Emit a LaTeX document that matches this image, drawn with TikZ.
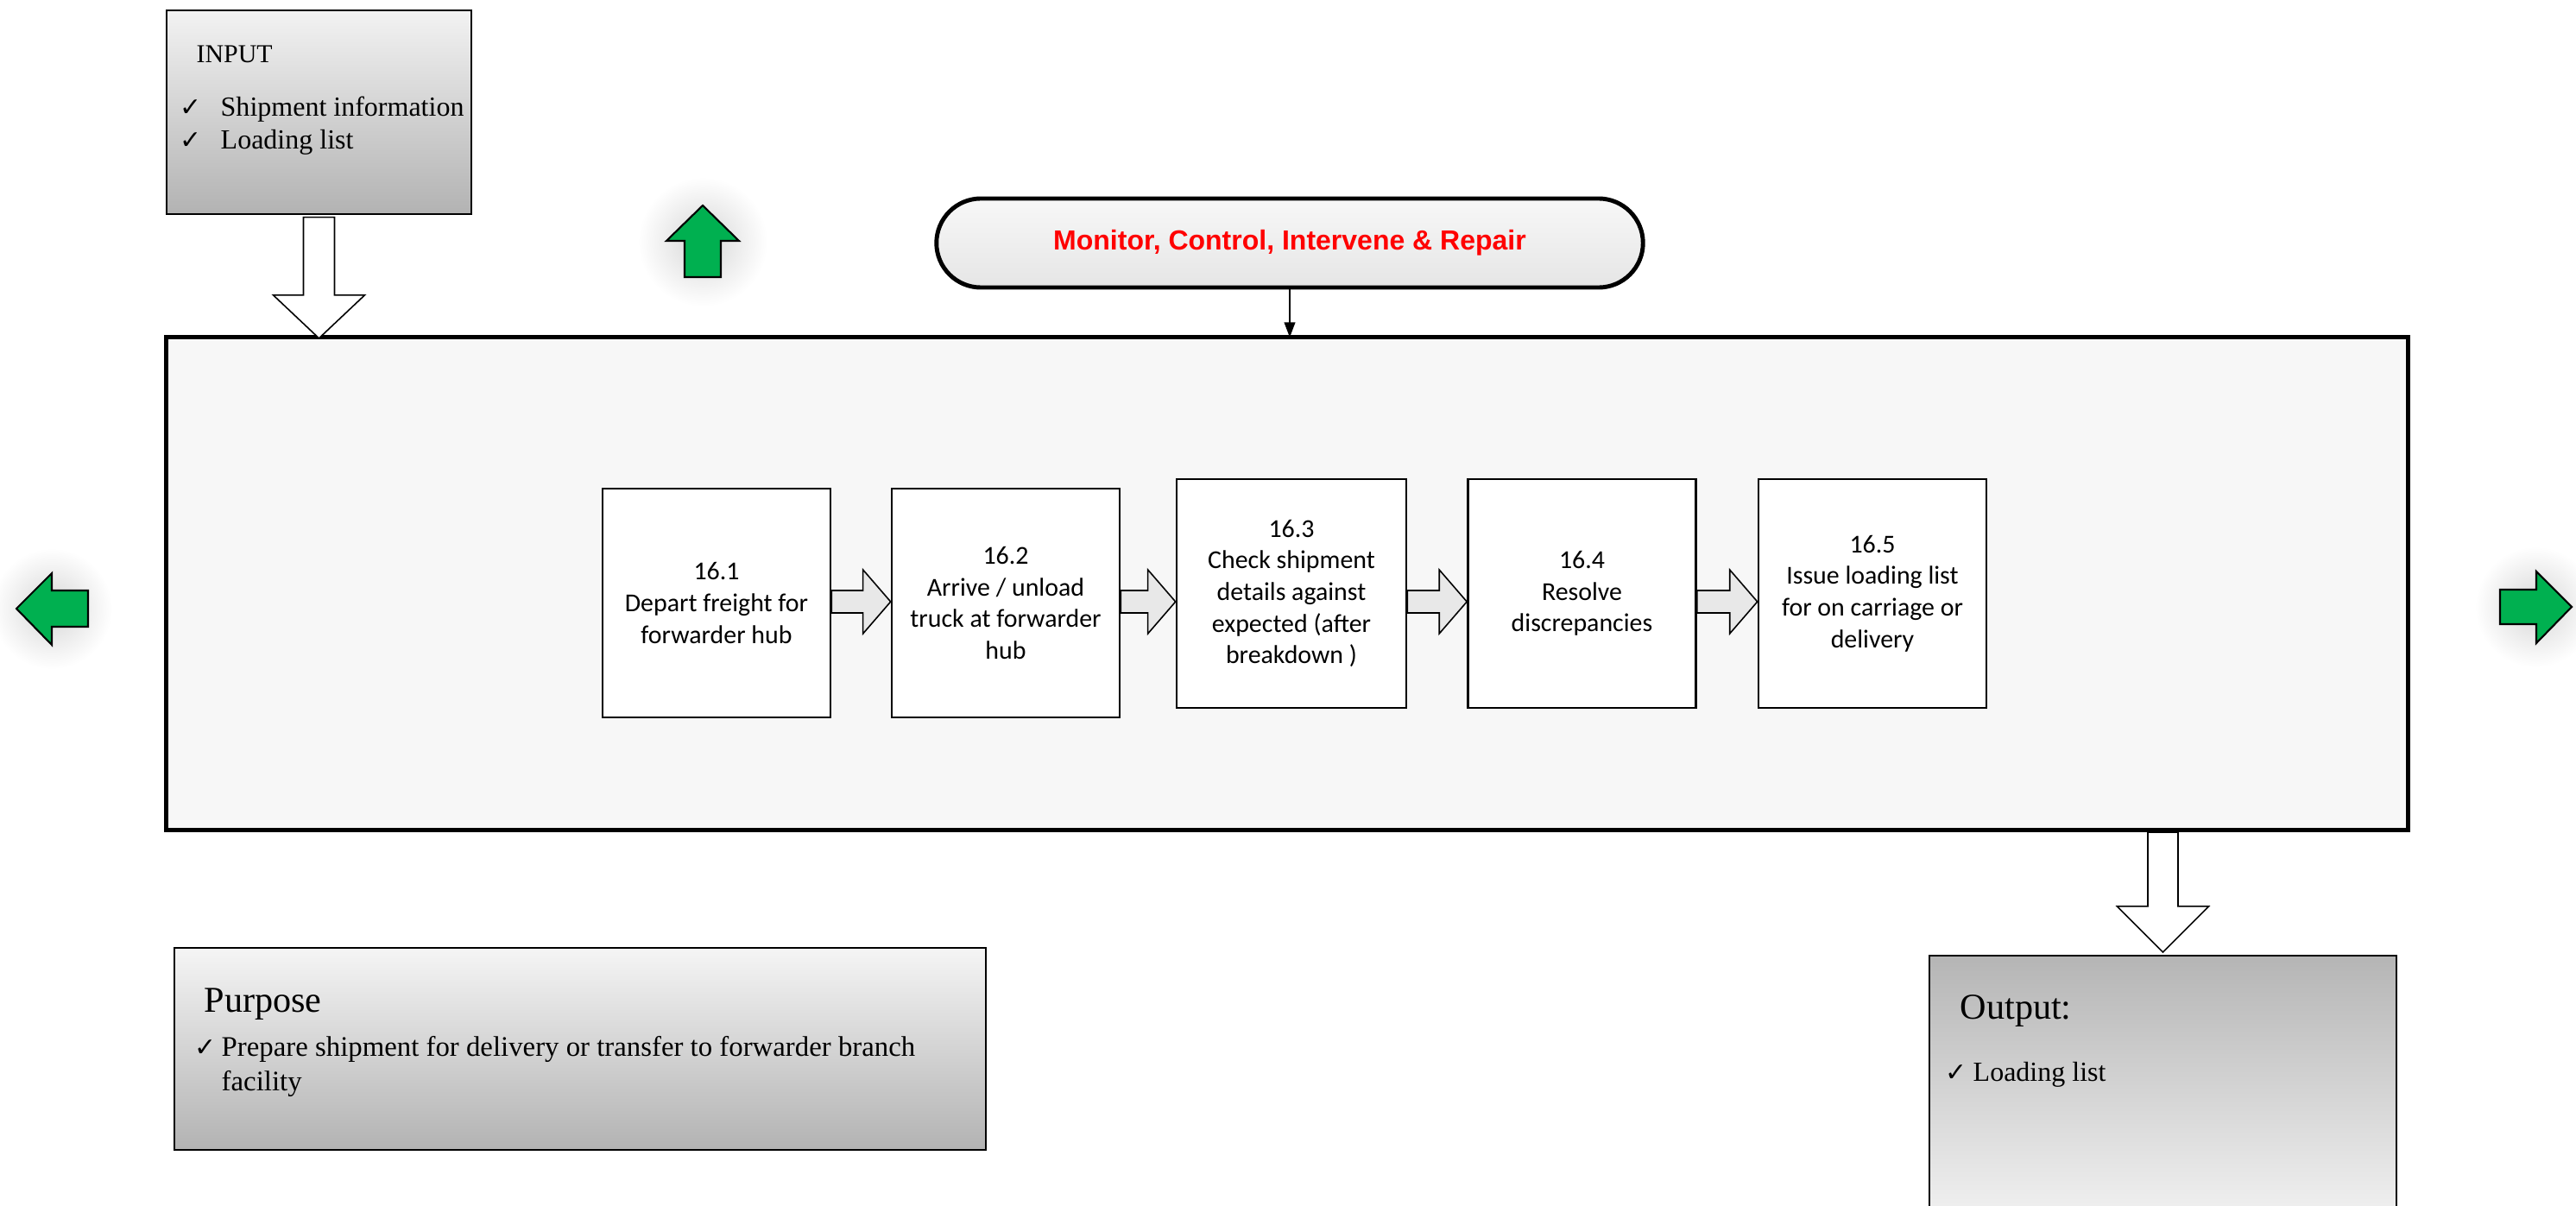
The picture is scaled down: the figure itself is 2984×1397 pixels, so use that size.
\documentclass[tikz,border=0pt]{standalone}
\usepackage{fontspec}
\setmainfont{Liberation Serif}
\newfontfamily\procfont{Carlito}
\newfontfamily\monfont{Liberation Sans}
\newfontfamily\symfont{DejaVu Sans}
\usetikzlibrary{shapes.misc,arrows.meta,calc}
\definecolor{arrgreen}{HTML}{00B050}
\definecolor{mainfill}{HTML}{F7F7F7}
\definecolor{monred}{HTML}{FF0000}
\tikzset{
  procbox/.style={draw, line width=0.7pt, fill=white, minimum width=2.64cm, minimum height=2.65cm,
    inner sep=1pt, align=center, font=\procfont\fontsize{8.5}{10.4}\selectfont},
  hollowarr/.style={draw, line width=0.45pt, fill=white, line join=miter},
  blockarr/.style={draw, line width=0.45pt, fill=black!9, line join=miter},
  greenarr/.style={draw, line width=0.6pt, fill=arrgreen, line join=miter},
  glowdisc/.style={inner color=black!16, outer color=white},
  serifbig/.style={font=\fontsize{12}{14}\selectfont, inner sep=0},
  serifmid/.style={font=\fontsize{9.1}{11}\selectfont, inner sep=0},
  chk/.style={font=\symfont\fontsize{8.5}{10}\selectfont, inner sep=0},
}
\begin{document}
\begin{tikzpicture}[x=0.01cm, y=-0.01cm]
\useasboundingbox (0,0) rectangle (2984,1397);

% glows
\shade[glowdisc] (814,280) circle (75);
\shade[glowdisc] (60,705) circle (70);
\shade[glowdisc] (2937,703) circle (70);

% green arrows
\draw[greenarr] (814,238) -- (856,279) -- (835,279) -- (835,321) -- (793,321) -- (793,279) -- (772,279) -- cycle;
\draw[greenarr] (19,705) -- (60,664) -- (60,684) -- (102,684) -- (102,726) -- (60,726) -- (60,747) -- cycle;
\draw[greenarr] (2979,703) -- (2938,662) -- (2938,683) -- (2896,683) -- (2896,723) -- (2938,723) -- (2938,745) -- cycle;

% input box
\node[draw, line width=0.55pt, top color=black!5, bottom color=black!30, minimum width=3.53cm, minimum height=2.35cm, inner sep=0, outer sep=0] (inbox) at (369.5,130) {};
\node[anchor=base west, font=\fontsize{8.5}{10}\selectfont, inner sep=0] (intitle) at (227,73) {INPUT};
\node[anchor=base west, chk] (inchk1) at (208,135) {✓};
\node[anchor=base west, serifmid] (inl1) at (255,135) {Shipment information};
\node[anchor=base west, chk] (inchk2) at (208,173) {✓};
\node[anchor=base west, serifmid] (inl2) at (255,173) {Loading list};

% main box
\node[draw, line width=1.4pt, fill=mainfill, minimum width=25.96cm, minimum height=5.70cm, inner sep=0, outer sep=0] (main) at (1491,676) {};

% monitor pill
\node[rounded rectangle, draw, line width=1.4pt, top color=black!3, bottom color=black!10,
  minimum width=8.18cm, minimum height=1.03cm, inner sep=0, outer sep=0,
  font=\monfont\bfseries\fontsize{9.1}{11}\selectfont, text=monred] (mon) at (1494,281.5) {Monitor, Control, Intervene \& Repair};
\draw[line width=0.6pt, -{Triangle[length=5pt,width=3.6pt]}] (mon.south) -- (mon.south |- main.north);

% input hollow arrow
\draw[hollowarr] ($(inbox.south)+(-18,4)$) -- ($(inbox.south |- main.north)+(-18,-49)$)
  -- ($(inbox.south |- main.north)+(-53,-49)$) -- ($(inbox.south |- main.north)+(0,1)$)
  -- ($(inbox.south |- main.north)+(53,-49)$) -- ($(inbox.south |- main.north)+(18,-49)$)
  -- ($(inbox.south)+(18,4)$) -- cycle;

% process boxes
\node[procbox] (b1) at (830,698.5) {16.1\\Depart freight for\\forwarder hub};
\node[procbox] (b2) at (1165,698.5) {16.2\\Arrive / unload\\truck at forwarder\\hub};
\node[procbox, minimum width=2.66cm] (b3) at (1496,687.5) {16.3\\Check shipment\\details against\\expected (after\\breakdown )};
\node[procbox] (b4) at (1832.5,687.5) {16.4\\Resolve\\discrepancies};
\node[procbox] (b5) at (2169,687.5) {16.5\\Issue loading list\\for on carriage or\\delivery};

\coordinate (ay) at (0,697);
\foreach \a/\b in {b1/b2, b2/b3, b3/b4, b4/b5}{
  \draw[blockarr] ($(\a.east |- ay)+(0,-13)$) -- ($(\b.west |- ay)+(-32,-13)$)
    -- ($(\b.west |- ay)+(-32,-37)$) -- (\b.west |- ay) -- ($(\b.west |- ay)+(-32,37)$)
    -- ($(\b.west |- ay)+(-32,13)$) -- ($(\a.east |- ay)+(0,13)$) -- cycle;
}

% purpose box
\node[draw, line width=0.55pt, top color=black!4, bottom color=black!30, minimum width=9.40cm, minimum height=2.34cm, inner sep=0, outer sep=0] (purpbox) at (672,1215) {};
\node[anchor=base west, serifbig] (purptitle) at (236,1172) {Purpose};
\node[anchor=base west, chk] (purpchk) at (225,1223) {✓};
\node[anchor=base west, font=\fontsize{9.33}{11}\selectfont, inner sep=0] (purpl1) at (256,1223) {Prepare shipment for delivery or transfer to forwarder branch};
\node[anchor=base west, font=\fontsize{9.33}{11}\selectfont, inner sep=0] (purpl2) at (256,1263) {facility};

% output box
\node[draw, line width=0.55pt, top color=black!29, bottom color=black!4, minimum width=5.41cm, minimum height=3.23cm, inner sep=0, outer sep=0] (outbox) at (2505.5,1268.5) {};
\node[anchor=base west, serifbig] (outtitle) at (2270,1180) {Output:};
\node[anchor=base west, chk] (outchk) at (2253,1252) {✓};
\node[anchor=base west, serifmid] (outl1) at (2285,1252) {Loading list};

\draw[hollowarr] ($(outbox.north |- main.south)+(-17.5,3)$) -- ($(outbox.north)+(-17.5,-57)$)
  -- ($(outbox.north)+(-53,-57)$) -- ($(outbox.north)+(0,-4)$)
  -- ($(outbox.north)+(53,-57)$) -- ($(outbox.north)+(17.5,-57)$)
  -- ($(outbox.north |- main.south)+(17.5,3)$) -- cycle;
\end{tikzpicture}
\end{document}
